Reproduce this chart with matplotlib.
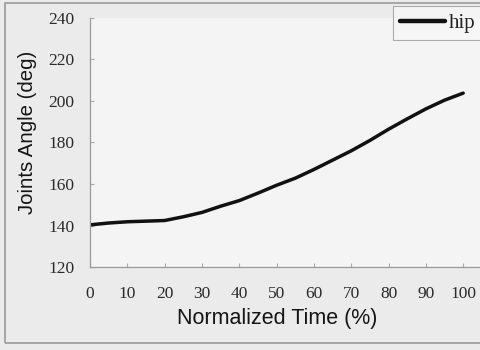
import matplotlib
matplotlib.use("Agg")
import matplotlib.pyplot as plt
from matplotlib.patches import Rectangle

time_pct = [0, 5, 10, 15, 20, 25, 30, 35, 40, 45, 50, 55, 60, 65, 70, 75, 80, 85, 90, 95, 100]
hip_angle = [140.3, 141.2, 141.8, 142.1, 142.4, 144.2, 146.3, 149.3, 152.0, 155.6, 159.4,
             162.8, 167.0, 171.5, 176.0, 181.0, 186.4, 191.4, 196.2, 200.4, 203.8]
x_ticks = [0, 10, 20, 30, 40, 50, 60, 70, 80, 90, 100]
y_ticks = [120, 140, 160, 180, 200, 220, 240]

fig = plt.figure(figsize=(4.8, 3.5), dpi=100, facecolor="#ebebeb")
ax = fig.add_axes([90/480, 83/350, 390/480, 249/350])
ax.set_facecolor("#f4f4f4")

ax.plot(time_pct, hip_angle, color="#111111", lw=2.5, label="hip", solid_capstyle="round")

ax.set_xlim(0, 104.5)
ax.set_ylim(120, 240)
ax.set_xticks(x_ticks)
ax.set_yticks(y_ticks)

for s in ["top", "right"]:
    ax.spines[s].set_visible(False)
for s in ["left", "bottom"]:
    ax.spines[s].set_color("#999999")
    ax.spines[s].set_linewidth(0.9)

ax.tick_params(direction="in", length=3, color="#aaaaaa", labelcolor="#2a2a2a",
               labelsize=12.5, pad=11)
ax.tick_params(axis="x", pad=14)
for lab in ax.get_xticklabels() + ax.get_yticklabels():
    lab.set_family("Liberation Serif")

ax.set_xlabel("Normalized Time (%)", family="Liberation Sans", fontsize=15.5,
              color="#151515")
ax.xaxis.set_label_coords(0.481, -0.165)
ax.xaxis.label.set_verticalalignment("top")
ax.set_ylabel("Joints Angle (deg)", family="Liberation Sans", fontsize=14.7,
              color="#151515")
ax.yaxis.set_label_coords(-0.136, 0.542)

leg = ax.legend(loc="upper left", bbox_to_anchor=(393/480, 1 - 6/350),
                bbox_transform=fig.transFigure, frameon=True, fancybox=False,
                prop={"family": "Liberation Serif", "size": 15},
                handlelength=2.15, handletextpad=0.2, borderpad=0.35,
                borderaxespad=0)
leg.get_frame().set_edgecolor("#999999")
leg.get_frame().set_facecolor("#f7f7f7")
leg.get_frame().set_linewidth(0.8)
for t in leg.get_texts():
    t.set_color("#222222")
for h in leg.get_lines():
    h.set_linewidth(3.2)

fig.patches.append(Rectangle((5/480, 7/350), 1.2, 1 - 10/350, transform=fig.transFigure,
                             fill=False, edgecolor="#9a9a9a", lw=1.2))

fig.savefig("out.png", dpi=100, facecolor=fig.get_facecolor())
